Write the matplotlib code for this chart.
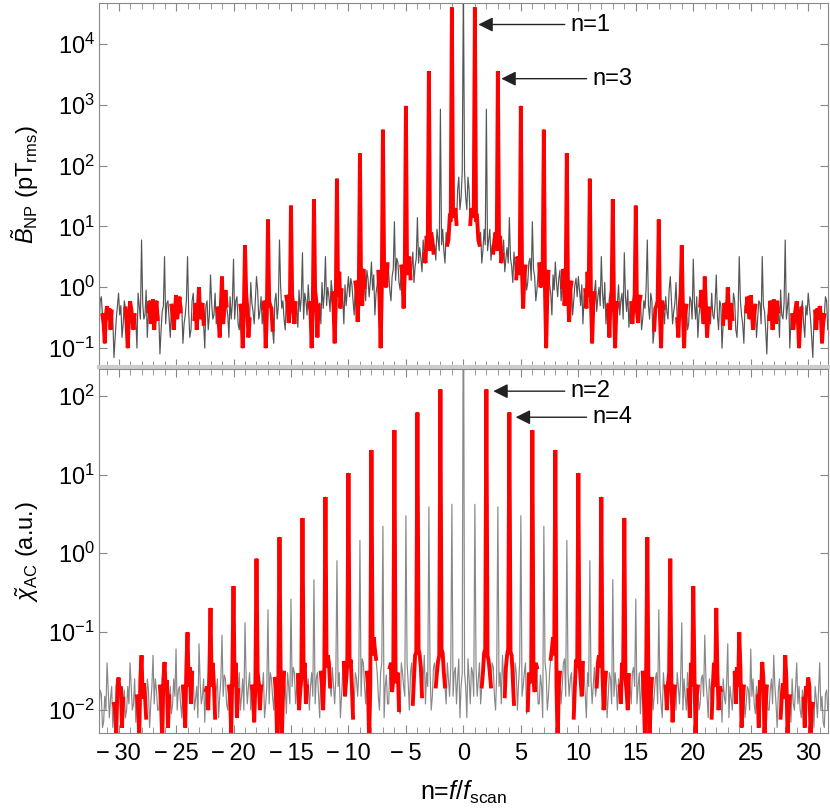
import numpy as np
import matplotlib
matplotlib.use('Agg')
import matplotlib.pyplot as plt
from matplotlib.ticker import MultipleLocator, FixedLocator, NullLocator, FuncFormatter

plt.rcParams['font.family'] = ['Liberation Sans', 'DejaVu Sans']
plt.rcParams['mathtext.fontset'] = 'custom'
plt.rcParams['mathtext.rm'] = 'Liberation Sans'
plt.rcParams['mathtext.it'] = 'Liberation Sans:italic'
plt.rcParams['mathtext.bf'] = 'Liberation Sans:bold'

# half spectra (n >= 0), mirrored for n < 0; grid step 0.1 in n
# each noise row k holds n = k+0.1 ... k+0.9, the harmonic lists hold n = 1..31
harmonics = list(range(1, 32))

# top panel: B_NP (pT_rms)
top_center = 1e5
top_harm = [40000, 850, 3600, 14, 960, 12, 390, 2.6, 160, 1.5, 61, 3.2, 28, 3.7, 22, 6,
            13, 1.5, 4.9, 2.9, 1.5, 1.6, 1.0, 3.2, 0.74, 3.2, 0.63, 6, 0.59, 0.8, 0.49]
top_noise = [
    [80, 30, 19, 65, 40, 11, 20, 14, 16],
    [12, 13, 6, 5, 8, 2.5, 4, 9, 5],
    [4, 6, 9, 2.8, 5, 3.7, 6, 8, 4],
    [5, 7, 2.5, 3.5, 6, 1.8, 3, 4.5, 2.5],
    [3, 2.2, 1.2, 3.8, 2, 1.4, 3.2, 2.5, 1.6],
    [1.8, 0.45, 1.5, 2.2, 0.9, 1.2, 2.6, 3, 1.3],
    [2, 1.5, 0.6, 0.9, 1.7, 2.4, 1.0, 1.1, 2.2],
    [0.9, 0.1, 0.7, 1.8, 1.1, 0.8, 0.35, 1.6, 0.9],
    [1.2, 0.7, 1.4, 1.9, 0.6, 1.0, 2.0, 0.5, 1.0],
    [0.8, 0.27, 0.9, 1.2, 0.35, 0.6, 1.1, 1.4, 0.7],
    [0.9, 0.5, 1.1, 0.25, 0.7, 0.9, 0.45, 1.8, 0.7],
    [0.6, 0.12, 0.5, 0.8, 1.3, 0.4, 0.7, 1.0, 0.5],
    [0.8, 0.45, 1.2, 0.25, 0.55, 0.5, 0.15, 0.6, 0.9],
    [0.5, 0.1, 0.4, 0.55, 1.1, 0.35, 0.6, 0.8, 0.3],
    [0.7, 0.4, 0.9, 0.22, 0.45, 0.55, 0.25, 0.5, 0.75],
    [0.4, 0.26, 0.55, 0.7, 0.2, 0.3, 0.6, 0.45, 1.0],
    [0.5, 0.3, 0.8, 0.6, 0.12, 0.2, 0.45, 0.5, 0.6],
    [0.35, 0.1, 0.6, 0.45, 0.25, 0.7, 0.4, 0.3, 0.9],
    [0.6, 0.25, 0.4, 0.55, 1.2, 0.3, 0.15, 0.45, 0.8],
    [0.4, 0.1, 0.35, 0.5, 0.2, 0.25, 0.7, 0.6, 0.3],
    [0.55, 0.3, 0.7, 0.15, 0.35, 0.5, 0.9, 0.4, 0.25],
    [0.5, 0.15, 0.3, 0.45, 0.25, 0.8, 0.35, 0.3, 0.55],
    [0.35, 0.2, 0.6, 0.5, 0.1, 0.25, 0.55, 0.45, 0.3],
    [0.45, 0.2, 0.55, 0.3, 0.8, 0.6, 0.2, 0.15, 0.4],
    [0.6, 0.35, 0.25, 0.12, 0.5, 0.4, 0.7, 0.45, 0.3],
    [0.4, 0.2, 0.35, 0.5, 0.15, 0.3, 0.6, 0.55, 0.25],
    [0.5, 0.4, 0.2, 0.08, 0.35, 0.3, 0.6, 0.4, 0.2],
    [0.45, 0.25, 0.6, 0.4, 0.15, 0.9, 0.35, 0.3, 0.55],
    [0.3, 0.5, 0.8, 0.1, 0.3, 0.35, 0.2, 0.3, 0.45],
    [0.3, 0.1, 0.25, 0.45, 0.6, 0.25, 0.15, 0.5, 0.35],
    [0.5, 0.3, 0.15, 0.07, 0.3, 0.4, 0.2, 0.45, 0.3],
    [0.35, 0.12, 0.25, 0.35, 0.7, 0.6, 0.2, 0.2, 0.4],
]
top_yticks = [1e-1, 1e0, 1e1, 1e2, 1e3, 1e4]

# bottom panel: chi_AC (a.u.)
bot_center = 1e4
bot_harm = [4.2, 122, 3.9, 62, 3.0, 37, 2.2, 20.6, 1.45, 10.5, 0.8, 5.2, 0.46, 2.8, 0.26, 1.6,
            0.19, 0.85, 0.13, 0.38, 0.09, 0.2, 0.07, 0.098, 0.06, 0.041, 0.05, 0.05, 0.04, 0.026, 0.04]
bot_noise = [
    [0.03, 0.02, 0.008, 0.045, 0.025, 0.012, 0.035, 0.03, 0.015],
    [0.035, 0.015, 0.025, 0.04, 0.012, 0.02, 0.03, 0.053, 0.06],
    [0.05, 0.042, 0.03, 0.02, 0.04, 0.035, 0.015, 0.01, 0.03],
    [0.02, 0.03, 0.012, 0.05, 0.025, 0.015, 0.035, 0.05, 0.06],
    [0.055, 0.05, 0.025, 0.012, 0.04, 0.03, 0.01, 0.022, 0.04],
    [0.015, 0.02, 0.03, 0.04, 0.009, 0.01, 0.03, 0.022, 0.03],
    [0.025, 0.017, 0.04, 0.035, 0.012, 0.012, 0.028, 0.02, 0.008],
    [0.04, 0.03, 0.01, 0.015, 0.03, 0.045, 0.06, 0.085, 0.05],
    [0.02, 0.004, 0.02, 0.03, 0.012, 0.02, 0.04, 0.045, 0.015],
    [0.03, 0.015, 0.025, 0.03, 0.012, 0.008, 0.02, 0.044, 0.035],
    [0.04, 0.024, 0.015, 0.04, 0.03, 0.015, 0.008, 0.03, 0.02],
    [0.025, 0.012, 0.02, 0.035, 0.015, 0.02, 0.04, 0.05, 0.035],
    [0.03, 0.01, 0.02, 0.03, 0.008, 0.015, 0.03, 0.025, 0.012],
    [0.015, 0.03, 0.02, 0.01, 0.025, 0.02, 0.012, 0.04, 0.03],
    [0.025, 0.017, 0.01, 0.028, 0.02, 0.012, 0.03, 0.035, 0.02],
    [0.012, 0.02, 0.03, 0.009, 0.02, 0.03, 0.015, 0.004, 0.03],
    [0.02, 0.004, 0.015, 0.025, 0.01, 0.015, 0.025, 0.03, 0.012],
    [0.02, 0.012, 0.008, 0.03, 0.018, 0.02, 0.01, 0.022, 0.03],
    [0.02, 0.007, 0.015, 0.02, 0.01, 0.03, 0.02, 0.012, 0.025],
    [0.01, 0.025, 0.015, 0.01, 0.03, 0.018, 0.008, 0.04, 0.02],
    [0.03, 0.005, 0.015, 0.02, 0.01, 0.012, 0.025, 0.028, 0.015],
    [0.025, 0.015, 0.008, 0.025, 0.018, 0.008, 0.02, 0.04, 0.02],
    [0.03, 0.01, 0.02, 0.018, 0.007, 0.025, 0.015, 0.012, 0.022],
    [0.008, 0.02, 0.014, 0.01, 0.025, 0.03, 0.012, 0.035, 0.02],
    [0.035, 0.006, 0.012, 0.02, 0.008, 0.012, 0.02, 0.018, 0.01],
    [0.015, 0.025, 0.012, 0.009, 0.02, 0.015, 0.006, 0.024, 0.018],
    [0.025, 0.004, 0.012, 0.02, 0.01, 0.01, 0.018, 0.025, 0.012],
    [0.02, 0.012, 0.006, 0.018, 0.025, 0.008, 0.015, 0.022, 0.014],
    [0.025, 0.005, 0.01, 0.015, 0.007, 0.025, 0.012, 0.01, 0.02],
    [0.012, 0.02, 0.01, 0.008, 0.018, 0.014, 0.006, 0.02, 0.016],
    [0.02, 0.005, 0.01, 0.012, 0.006, 0.02, 0.014, 0.008, 0.018],
    [0.01, 0.015, 0.007, 0.006, 0.016, 0.018, 0.01, 0.01, 0.012],
]
bot_yticks = [1e-2, 1e-1, 1e0, 1e1, 1e2]


def spectrum(center, harm, noise):
    half = np.column_stack([np.r_[center, harm], np.array(noise)]).ravel()
    xh = np.arange(len(half)) * 0.1
    x = np.r_[-xh[:0:-1], xh]
    y = np.r_[half[:0:-1], half]
    return x, y


def draw(ax, x, y, red_n, gray):
    ax.plot(x, y, color=gray, lw=0.85)
    for n in red_n:
        for s in (n, -n):
            m = np.abs(x - s) <= 0.41
            ax.plot(x[m], y[m], color='red', lw=2.8, solid_joinstyle='miter')


def xfmt(v, pos):
    if v < 0:
        return '\u2212\u2009' + '%d' % abs(v)
    return '%d' % v


def style(ax, yticks):
    ax.set_yscale('log')
    ax.set_xlim(-31.7, 31.7)
    ax.xaxis.set_major_locator(MultipleLocator(5))
    ax.xaxis.set_minor_locator(MultipleLocator(1))
    ax.xaxis.set_major_formatter(FuncFormatter(xfmt))
    ax.yaxis.set_major_locator(FixedLocator(yticks))
    ax.yaxis.set_minor_locator(NullLocator())
    ax.tick_params(which='both', direction='in', top=True, right=True, color='#888888')
    ax.tick_params(axis='both', which='major', labelsize=17, length=6)
    ax.tick_params(which='minor', length=4)
    ax.tick_params(axis='x', pad=7)
    ax.tick_params(axis='y', pad=3)
    for sp in ax.spines.values():
        sp.set_color('#888888')


fig = plt.figure(figsize=(8.3, 8.1), dpi=100)
ax1 = fig.add_axes([0.1193, 0.547, 0.878, 0.449])
ax2 = fig.add_axes([0.1193, 0.095, 0.878, 0.449])

xt, yt = spectrum(top_center, top_harm, top_noise)
draw(ax1, xt, yt, harmonics[0::2], '#555555')
style(ax1, top_yticks)
ax1.set_ylim(0.049, 47000)
ax1.tick_params(labelbottom=False)
ax1.spines['bottom'].set_color('#cccccc')
ax1.spines['bottom'].set_linewidth(3)
ax1.set_ylabel(r'$\tilde{B}_{\mathrm{NP}}$ (pT$_{\mathrm{rms}}$)', fontsize=17, labelpad=5)

xb, yb = spectrum(bot_center, bot_harm, bot_noise)
draw(ax2, xb, yb, harmonics[1::2], '#888888')
style(ax2, bot_yticks)
ax2.set_ylim(0.0051, 220)
ax2.set_ylabel(r'$\tilde{\chi}_{\mathrm{AC}}$ (a.u.)', fontsize=17, labelpad=5)
ax2.set_xlabel(r'n=$f/f_{\mathrm{scan}}$', fontsize=18, labelpad=10)

arrow = dict(arrowstyle='-|>', color='#222222', lw=1.0, mutation_scale=22, shrinkA=2, shrinkB=0)
ax1.annotate('n=1', xy=(1.3, 21000), xytext=(9.3, 21000), fontsize=17, va='center',
             arrowprops=arrow)
ax1.annotate('n=3', xy=(3.3, 2700), xytext=(11.2, 2700), fontsize=17, va='center',
             arrowprops=arrow)
ax2.annotate('n=2', xy=(2.6, 116), xytext=(9.3, 116), fontsize=17, va='center',
             arrowprops=arrow)
ax2.annotate('n=4', xy=(4.55, 54), xytext=(11.2, 54), fontsize=17, va='center',
             arrowprops=arrow)

fig.savefig('out.png', dpi=100)
